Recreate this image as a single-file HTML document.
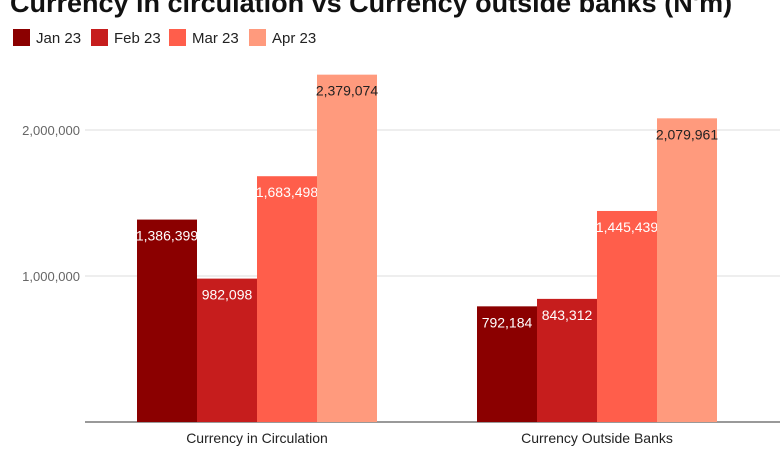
<!DOCTYPE html>
<html><head><meta charset="utf-8"><style>
body{margin:0;background:#fff;font-family:"Liberation Sans",sans-serif;}
#wrap{position:relative;width:780px;height:470px;overflow:hidden;}
</style></head><body>
<div id="wrap">
<svg id="svg" width="780" height="470" xmlns="http://www.w3.org/2000/svg" font-family="Liberation Sans, sans-serif">
<text x="10" y="12" font-size="27" font-weight="bold" fill="#111">Currency in circulation vs Currency outside banks (N'm)</text>
<g id="legend"></g>
<g id="grid"></g><g id="bars"></g>
</svg>
</div>
<script>
const categories = ["Currency in Circulation", "Currency Outside Banks"];
const seriesNames = ["Jan 23", "Feb 23", "Mar 23", "Apr 23"];
const jan = [1386399, 792184];
const feb = [982098, 843312];
const mar = [1683498, 1445439];
const apr = [2379074, 2079961];
const yTicks = [1000000, 2000000];
const yTickLabels = ["1,000,000", "2,000,000"];
const colors = ["#8b0000", "#c61d1d", "#ff5e4b", "#ff9a7d"];
const textColors = ["#fff", "#fff", "#fff", "#222"];
const series = [jan, feb, mar, apr];
const NS = "http://www.w3.org/2000/svg";
const y0 = 422, pxPerUnit = 146 / 1000000;
const y = v => y0 - v * pxPerUnit;
const groupStart = [137, 477], barW = 60;
const svg = document.getElementById('svg');
function mk(tag, attrs, parent){const e=document.createElementNS(NS,tag);for(const k in attrs)e.setAttribute(k,attrs[k]);parent.appendChild(e);return e;}
const grid = document.getElementById('grid');
yTicks.forEach((t,i)=>{
  const l = mk('line',{x1:85,x2:780,y1:y(t),y2:y(t),stroke:'#ddd','stroke-width':1},grid);
  
  
  const tx = mk('text',{x:80,y:y(t)+5,'text-anchor':'end','font-size':13,fill:'#666'},grid);
  tx.textContent = yTickLabels[i];
  
  
});
const axis = mk('line',{x1:85,x2:780,y1:y0,y2:y0,stroke:'#333','stroke-width':1},grid);


const bars = document.getElementById('bars');
categories.forEach((c,ci)=>{
  series.forEach((s,si)=>{
    const x = groupStart[ci] + si*barW;
    const r = mk('rect',{x:x,y:y(s[ci]),width:barW,height:y0-y(s[ci]),fill:colors[si]},bars);
    
    
    const t = mk('text',{x:x+barW/2,y:y(s[ci])+21,'text-anchor':'middle','font-size':14,fill:textColors[si]},bars);
    t.textContent = s[ci].toLocaleString('en-US');
    
    
  });
  const cl = mk('text',{x:groupStart[ci]+2*barW,y:443,'text-anchor':'middle','font-size':14,fill:'#222'},bars);
  cl.textContent = c;
  
  
});
const legend = document.getElementById('legend');
const lx = [13, 91, 169, 249];
seriesNames.forEach((n,i)=>{
  const r = mk('rect',{x:lx[i],y:29,width:17,height:17,fill:colors[i]},legend);
  
  
  const t = mk('text',{x:lx[i]+23,y:43,'font-size':15,fill:'#222'},legend);
  t.textContent = n;
  
  
});
</script>
</body></html>
